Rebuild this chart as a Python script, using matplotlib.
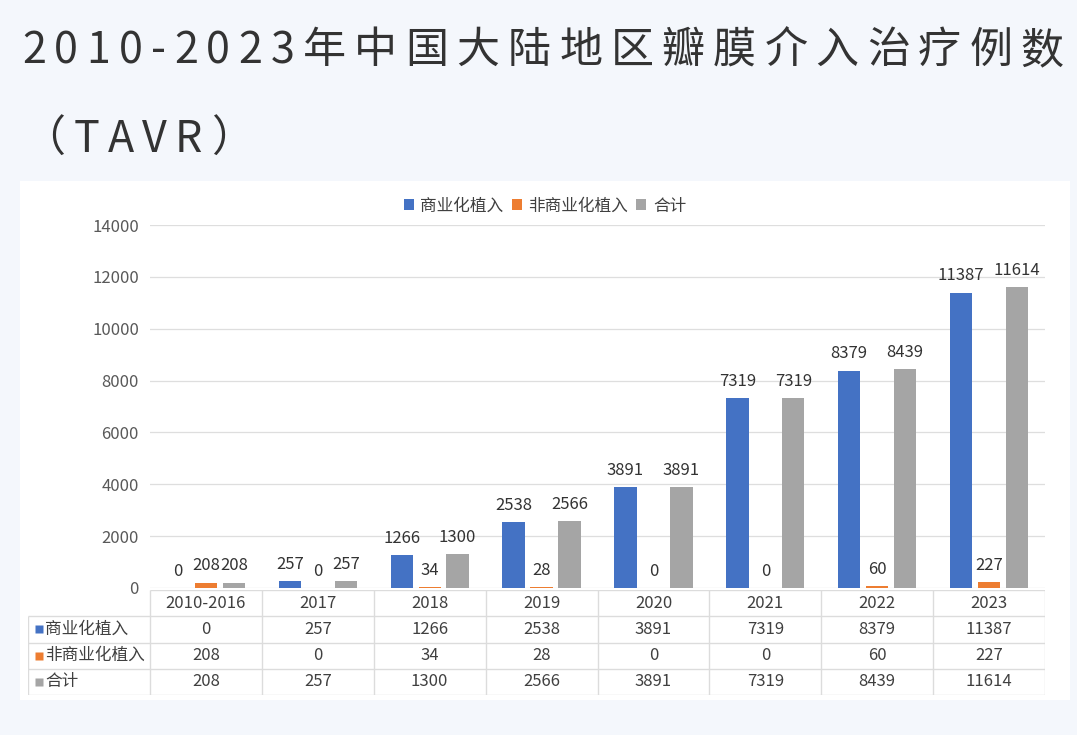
import numpy as np
import matplotlib
matplotlib.use("Agg")
from matplotlib import pyplot as plt
from matplotlib.patches import Patch, Rectangle

plt.rcParams['font.family'] = ['Noto Sans CJK SC', 'DejaVu Sans']

# data
TITLE_1 = "2010-2023年中国大陆地区瓣膜介入治疗例数"
TITLE_2 = "（TAVR）"
CATEGORIES = ["2010-2016", "2017", "2018", "2019", "2020", "2021", "2022", "2023"]
SERIES_NAMES = ["商业化植入", "非商业化植入", "合计"]
COMMERCIAL = [0, 257, 1266, 2538, 3891, 7319, 8379, 11387]
NON_COMMERCIAL = [208, 0, 34, 28, 0, 0, 60, 227]
TOTAL = [208, 257, 1300, 2566, 3891, 7319, 8439, 11614]
YTICKS = [0, 2000, 4000, 6000, 8000, 10000, 12000, 14000]

COLORS = ["#4472C4", "#ED7D31", "#A5A5A5"]
BG = "#f4f7fc"
TXT = "#404040"
GRID = "#dedede"

W, H = 1077, 735
fig = plt.figure(figsize=(W / 100, H / 100), dpi=100, facecolor=BG)

def fx(px):
    return px / W

def fy(py):
    return 1 - py / H

# white chart panel
fig.patches.append(Rectangle((fx(20), fy(700)), fx(1070) - fx(20), fy(181) - fy(700),
                             transform=fig.transFigure, facecolor="white", edgecolor="none", zorder=-10))

# title with letter spacing, drawn char by char
renderer = fig.canvas.get_renderer()

def spaced_text(x_px, y_px, s, size, gap_px):
    x = x_px
    for ch in s:
        t = fig.text(fx(x), fy(y_px), ch, fontsize=size, color="#333333", va="center", ha="left")
        w = t.get_window_extent(renderer=renderer).width
        x += w + gap_px

spaced_text(22, 51, TITLE_1, 31, 8.3)
spaced_text(22, 140, TITLE_2, 31, 8.3)

# main plot
left, right, top, bottom = 150, 1045, 225, 588
ax = fig.add_axes([fx(left), fy(bottom), fx(right) - fx(left), fy(top) - fy(bottom)])
ax.set_facecolor("white")
x = np.arange(len(CATEGORIES))
width = 0.2
offsets = [-0.25, 0, 0.25]
series = [COMMERCIAL, NON_COMMERCIAL, TOTAL]
for vals, off, col in zip(series, offsets, COLORS):
    bars = ax.bar(x + off, vals, width, color=col, zorder=3)
    ax.bar_label(bars, labels=[str(v) for v in vals], padding=6, fontsize=12, color="#333333")

ax.set_xlim(-0.5, len(CATEGORIES) - 0.5)
ax.set_ylim(0, 14000)
ax.set_yticks(YTICKS)
ax.set_yticklabels([str(v) for v in YTICKS])
ax.set_xticks([])
ax.tick_params(axis="y", length=0, pad=8, labelsize=12, labelcolor="#595959")
ax.grid(axis="y", color=GRID, lw=0.9, zorder=0)
for sp in ax.spines.values():
    sp.set_visible(False)

# legend
handles = [Patch(facecolor=c, edgecolor="none") for c in COLORS]
fig.legend(handles, SERIES_NAMES, loc="center", bbox_to_anchor=(fx(545), fy(206)), ncol=3,
           frameon=False, fontsize=12, handlelength=0.6, handleheight=0.6,
           handletextpad=0.4, columnspacing=0.5, labelcolor=TXT)

# data table under the plot
t_left, t_top, t_bottom = 28, 590, 695
colw = (right - left) / len(CATEGORIES)
L = -0.5 - (left - t_left) / colw
tax = fig.add_axes([fx(t_left), fy(t_bottom), fx(right) - fx(t_left), fy(t_top) - fy(t_bottom)])
tax.set_xlim(L, len(CATEGORIES) - 0.5)
tax.set_ylim(4, 0)
tax.axis("off")
lc = "#dcdcdc"
n = len(CATEGORIES)
tax.hlines(0, -0.5, n - 0.5, color=lc, lw=1)
for r in range(1, 5):
    tax.hlines(r, L, n - 0.5, color=lc, lw=1)
tax.vlines(L, 1, 4, color=lc, lw=1)
for c in range(n + 1):
    tax.vlines(c - 0.5, 0, 4, color=lc, lw=1)

for i, cat in enumerate(CATEGORIES):
    tax.text(i, 0.5, cat, ha="center", va="center", fontsize=12, color=TXT)
for r, (name, vals, col) in enumerate(zip(SERIES_NAMES, series, COLORS), start=1):
    tax.plot(L + 11 / colw, r + 0.5, marker="s", ms=5.5, color=col, mec="none")
    tax.text(L + 17 / colw, r + 0.5, name, ha="left", va="center", fontsize=12, color=TXT)
    for i, v in enumerate(vals):
        tax.text(i, r + 0.5, str(v), ha="center", va="center", fontsize=12, color=TXT)

fig.savefig("out.png", dpi=100, facecolor=BG)
